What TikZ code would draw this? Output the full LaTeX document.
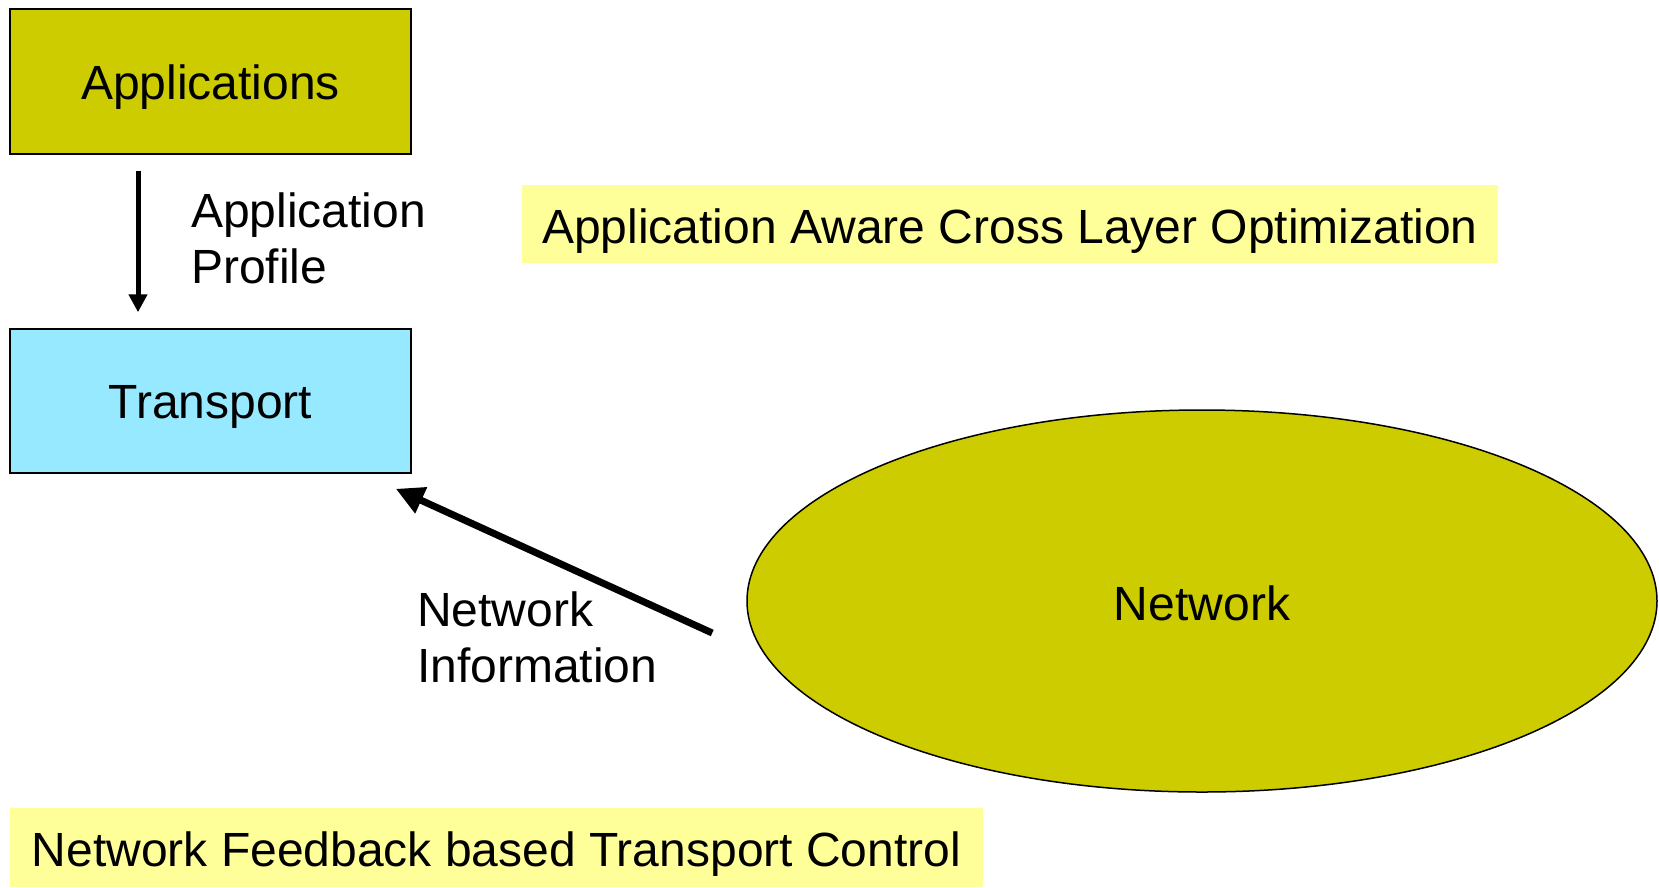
\documentclass[tikz,border=0pt]{standalone}
\usepackage{fontspec}
\setmainfont{Liberation Sans}
\usetikzlibrary{arrows.meta,shapes.geometric,calc}
\definecolor{olive}{RGB}{204,204,0}
\definecolor{skyfill}{RGB}{150,233,254}
\definecolor{notefill}{RGB}{255,255,153}
\tikzset{
  base font/.style={font=\fontsize{48}{56}\selectfont},
  layerbox/.style={base font, draw=black, line width=1.5, rectangle, inner sep=0,
    minimum width=401, minimum height=145, text height=35, text depth=0},
  banner/.style={base font, fill=notefill, inner sep=0, text height=38, text depth=0},
  label text/.style={base font, align=left, inner sep=0, anchor=base west},
  thinarrow/.style={line width=5, -{Triangle[length=18,width=18]}},
  thickarrow/.style={line width=7, -{Triangle[length=28,width=27]}}
}
\begin{document}
\begin{tikzpicture}[x=1pt,y=-1pt]
\useasboundingbox (0,0) rectangle (1659,887);

% protocol layers
\node[layerbox, fill=olive] (app) at (210.5,81.5) {Applications};
\node[layerbox, fill=skyfill, minimum height=144] (trans) at (210.5,401) {Transport};
\node[ellipse, draw=black, line width=1.5, fill=olive, base font, inner sep=0,
      minimum width=910, minimum height=382, text height=38, text depth=0]
      (net) at (1202,601) {Network};

% captions
\node[banner, minimum width=976, minimum height=78] (aaclo) at (1010,224)
  {Application Aware Cross Layer Optimization};
\node[banner, minimum width=973, minimum height=79] (nfbtc) at (496.5,847.5)
  {Network Feedback based Transport Control};

% information flows (label nodes are anchored on the baseline of their last line)
\coordinate (ax) at (138,0);
\draw[thinarrow, shorten <=16, shorten >=16] (app.south -| ax) -- (trans.north -| ax);
\node[label text] (profile) at (191,283) {Application\\Profile};

\draw[thickarrow] ($(net.west)+(-34,32)$) -- ($(trans.south east)+(-16,15)$);
\node[label text] (netinfo) at (417,682) {Network\\Information};
\end{tikzpicture}
\end{document}
